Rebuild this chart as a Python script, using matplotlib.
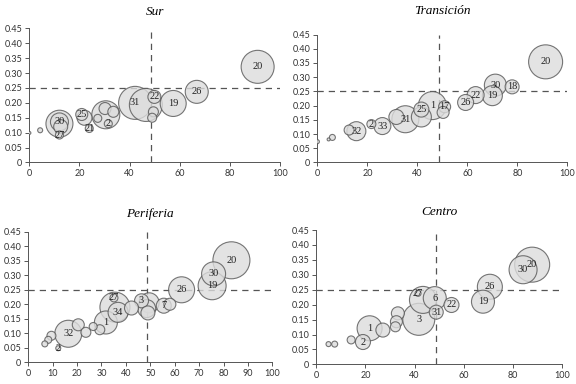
import numpy as np
import matplotlib
matplotlib.use("Agg")
import matplotlib.pyplot as plt

# -- Data: x (%), y (index), bubble diameter (px), label --------------------
sur_x = [0, 4.3, 12, 12, 12.5, 12, 22, 20.9, 23.9, 27.3, 30.5, 31.5, 30.2, 33.5,
         46.5, 42.2, 49.5, 49.0, 49.9, 57.4, 66.8, 91.1]
sur_y = [0.099, 0.108, 0.13, 0.136, 0.12, 0.092, 0.15, 0.161, 0.114, 0.148, 0.16, 0.13,
         0.181, 0.170, 0.193, 0.200, 0.170, 0.150, 0.220, 0.198, 0.237, 0.321]
sur_size = [3, 5, 27, 18, 14, 8, 15, 12, 8, 8, 28, 8, 12, 11,
            33, 33, 10, 9, 13, 26, 23, 33]
sur_labels = ["", "", "", "30", "", "27", "", "25", "21", "", "", "2", "", "",
              "", "31", "", "", "22", "19", "26", "20"]

tra_x = [0, 4.5, 6, 12.7, 15.6, 21.6, 26, 31.6, 41.6, 35.2, 41.6, 46, 50.3, 50.9,
         59.3, 63.3, 70.0, 71.2, 77.9, 91.3]
tra_y = [0.073, 0.081, 0.088, 0.114, 0.110, 0.135, 0.128, 0.16, 0.16, 0.152, 0.186, 0.2,
         0.176, 0.196, 0.211, 0.237, 0.235, 0.272, 0.266, 0.354]
tra_size = [4, 3, 6, 10, 19, 9, 17, 15, 20, 27, 15, 28, 12, 12,
            16, 17, 20, 22, 14, 34]
tra_labels = ["", "", "", "", "32", "2", "33", "", "", "31", "25", "1", "", "17",
              "26", "22", "19", "30", "18", "20"]

per_x = [6.8, 8.2, 9.5, 12.3, 16.4, 20.5, 23.6, 26.6, 29.3, 35.5, 31.8, 42.3, 36.8,
         35.1, 49, 48.5, 49.5, 46.4, 58, 55.5, 62.8, 75.3, 75.9, 83.2]
per_y = [0.063, 0.077, 0.091, 0.048, 0.098, 0.129, 0.103, 0.123, 0.112, 0.19, 0.137,
         0.187, 0.172, 0.222, 0.17, 0.185, 0.205, 0.212, 0.2, 0.195, 0.250, 0.264,
         0.305, 0.352]
per_size = [6, 7, 9, 5, 27, 12, 10, 8, 10, 30, 23, 14, 20,
            8, 14, 18, 20, 14, 12, 15, 26, 28, 24, 37]
per_labels = ["", "", "", "2", "32", "", "", "", "", "", "1", "", "34",
              "27", "", "", "", "3", "", "7", "26", "19", "30", "20"]

cen_x = [5, 7.5, 14.2, 19, 27.1, 21.7, 32.2, 32.6, 33.2, 41.7, 43.4, 41.4, 48.8,
         48.2, 55, 67.8, 70.6, 87.8, 84.1]
cen_y = [0.068, 0.068, 0.082, 0.075, 0.115, 0.121, 0.126, 0.143, 0.171, 0.151, 0.216,
         0.238, 0.175, 0.222, 0.199, 0.21, 0.26, 0.334, 0.317]
cen_size = [5, 6, 8, 15, 14, 25, 10, 12, 13, 32, 27, 6, 14,
            23, 15, 23, 25, 35, 28]
cen_labels = ["", "", "", "2", "", "1", "", "", "", "3", "", "27", "31",
              "6", "22", "19", "26", "20", "30"]

panels = [
    ("Sur", sur_x, sur_y, sur_size, sur_labels, [0.051, 0.577, 0.435, 0.349], 20, 10),
    ("Transición", tra_x, tra_y, tra_size, tra_labels, [0.551, 0.577, 0.434, 0.333], 20, 15),
    ("Periferia", per_x, per_y, per_size, per_labels, [0.049, 0.057, 0.424, 0.339], 10, 11),
    ("Centro", cen_x, cen_y, cen_size, cen_labels, [0.549, 0.051, 0.427, 0.350], 20, 11),
]

fig = plt.figure(figsize=(5.76, 3.84), dpi=100)

for title, xs, ys, sizes, labels, pos, xstep, tpad in panels:
    ax = fig.add_axes(pos)
    xs = np.array(xs)
    ys = np.array(ys)
    d = np.array(sizes, dtype=float)
    order = np.argsort(-d)
    ax.scatter(xs[order], ys[order], s=(d[order] * 0.72) ** 2, facecolor="#dcdcdc",
               edgecolor="#555555", linewidth=0.8, alpha=0.8, zorder=3)
    for x, y, lab in zip(xs, ys, labels):
        if lab:
            ax.text(x, y, lab, ha="center", va="center", fontsize=7.5,
                    family="Liberation Serif", color="#222222", zorder=5)

    ax.axhline(0.25, color="#555555", lw=0.9, ls=(0, (5, 4)), zorder=2)
    ax.axvline(48.7, color="#555555", lw=0.9, ls=(0, (5, 4)), zorder=2)

    ax.set_xlim(0, 100)
    ax.set_ylim(0, 0.45)
    ax.set_xticks(np.arange(0, 101, xstep))
    ax.set_yticks(np.arange(0, 0.451, 0.05))
    ax.set_yticklabels(["0"] + [f"{v:.2f}" for v in np.arange(0.05, 0.451, 0.05)])
    ax.tick_params(labelsize=6.5, length=3, width=0.7, color="#555555", pad=2,
                   labelcolor="#333333")
    for lab in ax.get_xticklabels() + ax.get_yticklabels():
        lab.set_family("Lato")
    for side in ["top", "right"]:
        ax.spines[side].set_visible(False)
    for side in ["left", "bottom"]:
        ax.spines[side].set_color("#555555")
        ax.spines[side].set_linewidth(0.7)
    ax.patch.set_alpha(0)
    ax.set_title(title, fontsize=9.5, style="italic", family="Liberation Serif",
                 pad=tpad)

fig.savefig("out.png", dpi=100)
